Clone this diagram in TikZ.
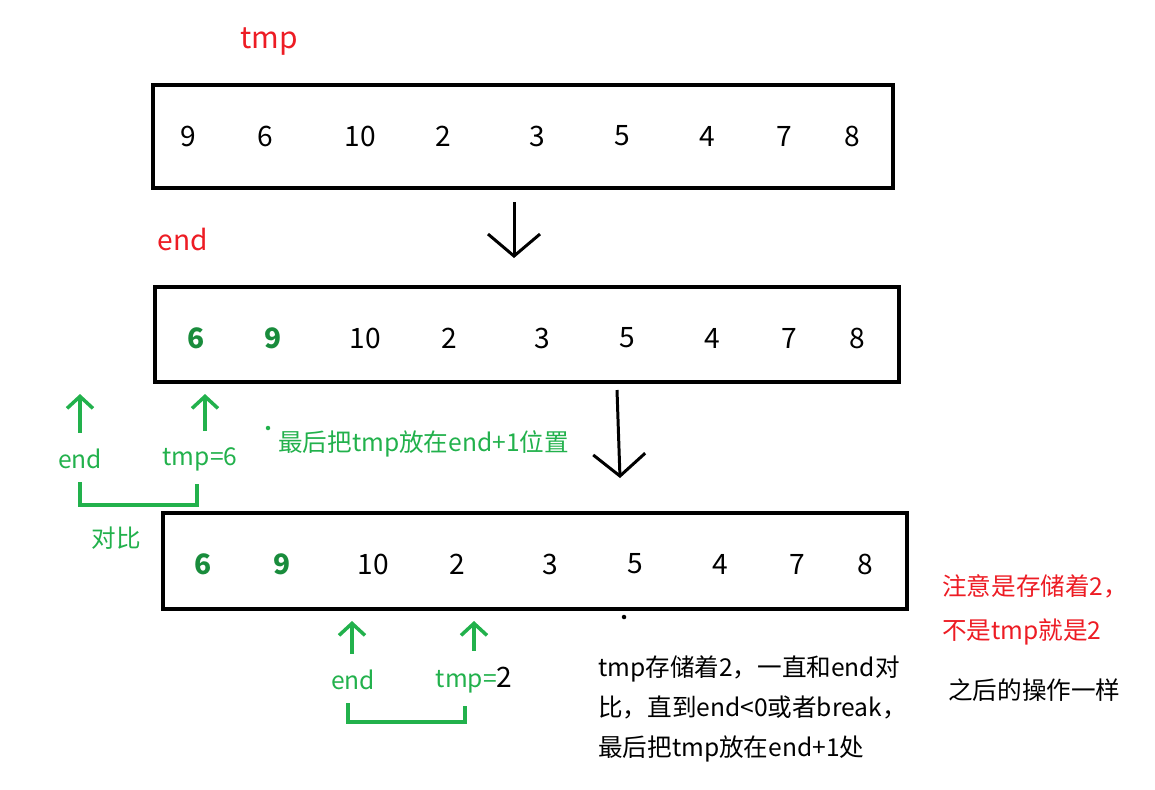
\documentclass[tikz,border=0pt]{standalone}
\usepackage{fontspec}
\setmainfont{Noto Sans CJK SC}
\usetikzlibrary{arrows.meta, positioning}
\definecolor{PaintRed}{RGB}{237, 28, 36}
\definecolor{PaintGreen}{RGB}{34, 177, 76}
\definecolor{DeepGreen}{RGB}{25, 140, 60}

\begin{document}
\begin{tikzpicture}[
    x=0.02cm, y=-0.02cm,
    arrbox/.style={rectangle, draw=black, line width=2.3pt, inner sep=0pt},
    num/.style={font=\fontsize{16}{18}\selectfont},
    hinum/.style={text=DeepGreen, font=\fontsize{16}{18}\selectfont\bfseries},
    redlbl/.style={text=PaintRed, font=\fontsize{#1}{20}\selectfont},
    grnlbl/.style={text=PaintGreen, font=\fontsize{14}{17}\selectfont},
    note/.style={align=left, anchor=west, font=\fontsize{14}{#1}\selectfont},
    downarr/.style={-{Straight Barb[length=0.44cm, width=1.04cm, line width=1.7pt]}, line width=1.7pt},
    uparr/.style={-{Straight Barb[length=0.24cm, width=0.52cm, line width=2pt]}, line width=2pt, PaintGreen, shorten <=0.2cm, shorten >=0.2cm},
    bracket/.style={line width=2pt, PaintGreen}
]
    \useasboundingbox (0,0) rectangle (1155,789);

    % Arrays
    \node[arrbox, minimum width=14.8cm, minimum height=2.06cm] (b1) at (523,136.5) {};
    \node[arrbox, minimum width=14.88cm, minimum height=1.9cm] (b2) at (527,334.5) {};
    \node[arrbox, minimum width=14.88cm, minimum height=1.92cm] (b3) at (535,561) {};

    \foreach \v/\x [count=\i] in {9/188, 6/265, 10/360, 2/443, 3/537, 5/622, 4/707, 7/784, 8/852}
        \node[num] (a\i) at (\x,136) {\v};
    \foreach \v/\x/\s [count=\i] in {6/196/hinum, 9/273/hinum, 10/365/num, 2/449/num, 3/542/num, 5/627/num, 4/712/num, 7/789/num, 8/857/num}
        \node[\s] (m\i) at (\x,338) {\v};
    \foreach \v/\x/\s [count=\i] in {6/203/hinum, 9/282/hinum, 10/373/num, 2/457/num, 3/550/num, 5/635/num, 4/720/num, 7/797/num, 8/865/num}
        \node[\s] (c\i) at (\x,564) {\v};

    % Red names
    \node[redlbl=17] (tmpname) at (269,42) {tmp};
    \node[redlbl=16] (endname) at (183,239) {end};

    % Steps
    \coordinate (d1s) at (514,202);
    \coordinate (d1e) at (514,258);
    \coordinate (d2s) at (617,390);
    \coordinate (d2e) at (620,478);
    \draw[downarr] (d1s) -- (d1e);
    \draw[downarr] (d2s) -- (d2e);

    % First comparison
    \node[grnlbl] (e1) at (80,459) {end};
    \node[grnlbl] (t1) at (200,459) {tmp=6};
    \draw[uparr] (e1.north) -- (e1.north |- b2.south);
    \draw[uparr] ([xshift=0.1cm]t1.north) -- ([xshift=0.1cm]t1.north |- b2.south);
    \coordinate (k1) at (138,505);
    \draw[bracket] ([yshift=-0.14cm]e1.south) |- (k1) -| ([yshift=-0.14cm, xshift=-0.06cm]t1.south);
    \node[grnlbl] (cmp) at (116,538) {对比};
    \fill[PaintGreen] (268,428) circle (0.045cm);
    \node[grnlbl, anchor=west] (put1) at (272,444) {最后把tmp放在end+1位置};

    % Second comparison
    \node[grnlbl] (e2) at (353,680) {end};
    \node[grnlbl] (t2) at (474,680) {tmp=\textcolor{black}{\fontsize{16}{17}\selectfont 2}};
    \draw[uparr] ([xshift=-0.02cm]e2.north) -- ([xshift=-0.02cm]e2.north |- b3.south);
    \draw[uparr] (t2.north) -- (t2.north |- b3.south);
    \coordinate (k2) at (407,722);
    \draw[bracket] ([yshift=-0.14cm, xshift=-0.1cm]e2.south) |- (k2) -| ([yshift=-0.14cm, xshift=-0.18cm]t2.south);
    \fill[black] (624,617) circle (0.045cm);

    % Notes
    \node[note=22.7] (expl) at (592,709) {tmp存储着2，一直和end对\\比，直到end<0或者break，\\最后把tmp放在end+1处};
    \node[note=25, text=PaintRed] (warn) at (936,610) {注意是存储着2，\\不是tmp就是2};
    \node[note=17] (rest) at (942,690) {之后的操作一样};

\end{tikzpicture}
\end{document}
